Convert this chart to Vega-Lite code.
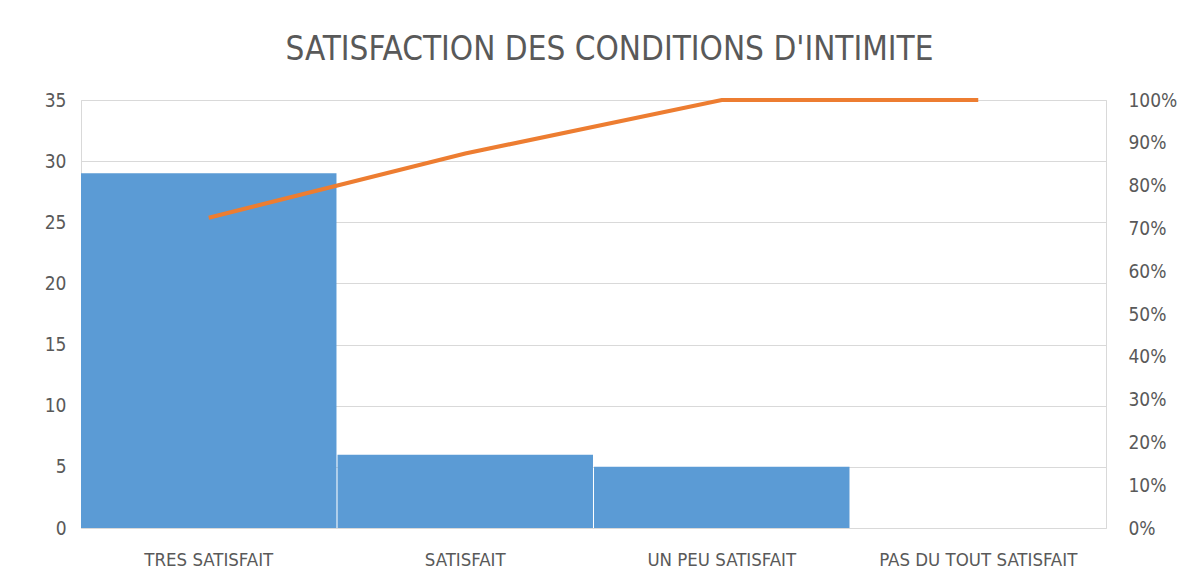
{
  "$schema": "https://vega.github.io/schema/vega-lite/v6.json",
  "autosize": {"type": "none"},
  "width": 1025,
  "height": 428,
  "padding": {"left": 81, "top": 100, "right": 96, "bottom": 58},
  "background": "white",
  "config": {
    "font": "DejaVu Sans Condensed, Liberation Sans, sans-serif",
    "view": {"stroke": "#d9d9d9", "strokeWidth": 1}
  },
  "title": {
    "text": "SATISFACTION DES CONDITIONS D'INTIMITE",
    "font": "DejaVu Sans Condensed, Liberation Sans, sans-serif",
    "fontSize": 33,
    "fontWeight": "normal",
    "color": "#595959",
    "anchor": "middle",
    "offset": 24,
    "dx": 16
  },
  "data": {
    "values": [
      {"categorie": "TRES SATISFAIT", "effectif": 29, "cumul": 0.725},
      {"categorie": "SATISFAIT", "effectif": 6, "cumul": 0.875},
      {"categorie": "UN PEU SATISFAIT", "effectif": 5, "cumul": 1.0},
      {"categorie": "PAS DU TOUT SATISFAIT", "effectif": 0, "cumul": 1.0}
    ]
  },
  "encoding": {
    "x": {
      "field": "categorie",
      "type": "nominal",
      "sort": null,
      "scale": {"paddingInner": 0.004, "paddingOuter": 0},
      "axis": {
        "title": null,
        "labelAngle": 0,
        "labelFontSize": 18.5,
        "labelColor": "#595959",
        "labelPadding": 22,
        "labelLimit": 0,
        "ticks": false,
        "domain": false,
        "grid": false
      }
    }
  },
  "layer": [
    {
      "mark": {"type": "bar", "color": "#5B9BD5"},
      "encoding": {
        "y": {
          "field": "effectif",
          "type": "quantitative",
          "scale": {"domain": [0, 35], "nice": false},
          "axis": {
            "title": null,
            "values": [0, 5, 10, 15, 20, 25, 30, 35],
            "labelFontSize": 19,
            "labelColor": "#595959",
            "labelPadding": 15,
            "ticks": false,
            "domain": false,
            "grid": true,
            "gridColor": "#d9d9d9",
            "gridWidth": 1
          }
        }
      }
    },
    {
      "mark": {"type": "line", "color": "#ED7D31", "strokeWidth": 4},
      "encoding": {
        "y": {
          "field": "cumul",
          "type": "quantitative",
          "scale": {"domain": [0, 1], "nice": false},
          "axis": {
            "title": null,
            "orient": "right",
            "format": ".0%",
            "values": [0, 0.1, 0.2, 0.3, 0.4, 0.5, 0.6, 0.7, 0.8, 0.9, 1],
            "labelFontSize": 19,
            "labelColor": "#595959",
            "labelPadding": 22,
            "ticks": false,
            "domain": false,
            "grid": false
          }
        }
      }
    }
  ],
  "resolve": {"scale": {"y": "independent"}}
}
